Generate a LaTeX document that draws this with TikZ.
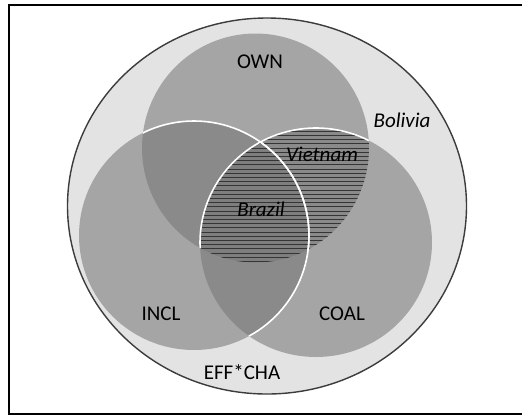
\documentclass[tikz,border=0pt]{standalone}
\usepackage{fontspec}
\setmainfont{Carlito}
\definecolor{bgl}{HTML}{E3E3E3}
\definecolor{cfill}{HTML}{767676}
\definecolor{outl}{HTML}{3C3C3C}
\definecolor{hatchc}{HTML}{353535}
\tikzset{
  setfill/.style={fill=cfill, fill opacity=0.56},
  wline/.style={draw=white, line width=1.6pt},
  hatchline/.style={draw=hatchc, line width=1pt},
  lab/.style={font=\fontsize{21}{25}\selectfont, text=black, inner sep=0pt},
  ilab/.style={font=\fontsize{21}{25}\selectfont\itshape, text=black, inner sep=0pt}
}
\begin{document}
\begin{tikzpicture}[x=1pt,y=-1pt]
\useasboundingbox (0,0) rectangle (522,416);
\fill[white] (0,0) rectangle (522,416);
\draw[line width=2pt] (9,5) rectangle (530,414);
\def\own{(255.5,148) ellipse [x radius=113.5pt, y radius=114.5pt]}
\def\incl{(194,235.5) ellipse [x radius=115pt, y radius=114.5pt]}
\def\coal{(316,242.5) ellipse [x radius=116pt, y radius=114.5pt]}
% outer set
\path[fill=bgl, draw=outl, line width=1.4pt] (267,206) ellipse [x radius=199.5pt, y radius=188pt];
% three sets
\fill[setfill] \own;
\fill[setfill] \coal;
\fill[setfill] \incl;
% hatching of OWN and COAL
\begin{scope}
  \clip \own;
  \clip \coal;
  \foreach \yy in {127,131.2,...,268} \draw[hatchline] (190,\yy) -- (380,\yy);
\end{scope}
% white borders
\begin{scope}
  \clip \own;
  \draw[wline] \coal;
  \draw[wline] \incl;
\end{scope}
\begin{scope}
  \clip \coal;
  \draw[wline] \incl;
\end{scope}
% labels
\node[lab] (own) at (260,62) {OWN};
\node[ilab] (bolivia) at (402,120) {Bolivia};
\node[ilab] (vietnam) at (322,154) {Vietnam};
\node[ilab] (brazil) at (261,209) {Brazil};
\node[lab] (incl) at (161,314) {INCL};
\node[lab] (coal) at (342,314) {COAL};
\node[lab] (effcha) at (242,372) {EFF*CHA};
\end{tikzpicture}
\end{document}
